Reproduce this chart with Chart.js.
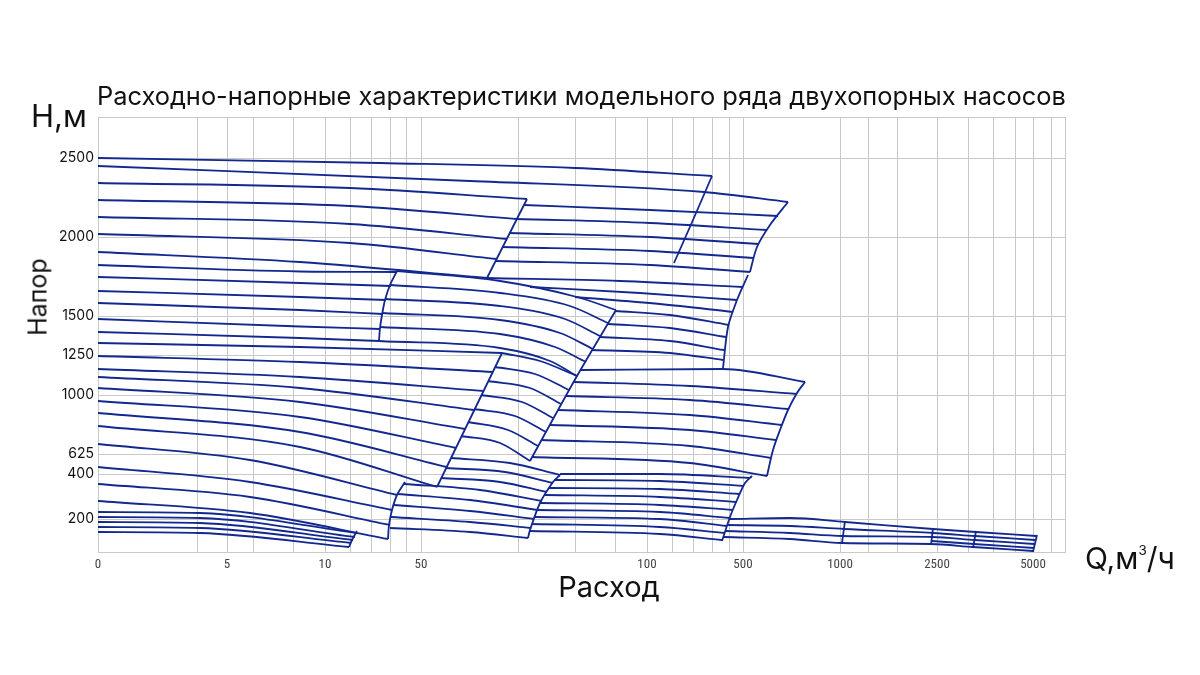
<!DOCTYPE html>
<html lang="ru">
<head>
<meta charset="utf-8">
<title>Расходно-напорные характеристики</title>
<script src="https://cdn.jsdelivr.net/npm/chart.js@4.4.1/dist/chart.umd.min.js"></script>
<style>
  html, body { margin: 0; padding: 0; background: #fff; }
  #wrap { position: relative; width: 1200px; height: 675px; font-family: Inter, Roboto, "Noto Sans", sans-serif; color: #111; }
  #wrap canvas { position: absolute; left: 0; top: 0; }
  .lbl { position: absolute; white-space: nowrap; line-height: 1; }
  #title { left: 97px; top: 83px; font-size: 25.4px; }
  #yUnit { left: 31px; top: 100px; font-size: 31px; }
  #yName { left: 38px; top: 297px; font-size: 25px; transform: translate(-50%, -50%) rotate(-90deg); }
  #xName { left: 609px; top: 572px; font-size: 29px; transform: translateX(-50%); }
  #xUnit { left: 1085px; top: 543px; font-size: 30px; }
  #xUnit sup { font-size: 0.45em; vertical-align: 0; position: relative; top: -1.05em; }
</style>
</head>
<body>
<div id="wrap">
  <canvas id="pumpChart" width="1200" height="675"></canvas>
  <div class="lbl" id="title">Расходно-напорные характеристики модельного ряда двухопорных насосов</div>
  <div class="lbl" id="yUnit">Н,м</div>
  <div class="lbl" id="yName">Напор</div>
  <div class="lbl" id="xName">Расход</div>
  <div class="lbl" id="xUnit">Q,м<sup>3</sup>/ч</div>
</div>
<script>
// axis positions (the axes are not linear: positions along the axis, labels put on top)
const xGrid = [0, 99, 129, 155, 195, 227, 252, 273, 292, 308, 323, 420, 477, 517, 549, 574, 595, 614, 631, 645, 742, 770, 799, 839, 870, 895, 917, 935, 953, 967];
const xLabelPos = [0, 129, 227, 323, 549, 645, 742, 839, 935];
const xLabels = ['0', '5', '10', '50', '100', '500', '1000', '2500', '5000'];

const yGrid = [0, 33, 78, 98, 157, 197, 236, 315, 394, 435];
const yLabelPos = [33, 78, 98, 157, 197, 236, 315, 394];
const yLabels = ['200', '400', '625', '1000', '1250', '1500', '2000', '2500'];

// Q-H curves, [position Q, position H]
const topCurves = [
  [[0,394],[282,389],[477,384],[614,376]],
  [[0,386],[372,371],[606,360],[690,350]]
];
const aCurves = [
  [[0,369],[252,364],[429,353]],
  [[0,352],[252,346],[419,333]],
  [[0,335],[252,328],[409,313]],
  [[0,318],[252,309],[399,293]],
  [[0,300],[202,290],[389,274]]
];
const cCurves = [
  [[426,347],[552,342],[680,336]],
  [[418,333],[552,329],[669,322]],
  [[411,319],[552,315],[660,308]],
  [[404,305],[552,301],[655,294]],
  [[397,291],[552,287],[652,280]]
];
const dCurves = [
  [[389,274],[522,271],[645,265]],
  [[432,265],[542,259],[639,252]],
  [[477,255],[562,248],[635,240]],
  [[517,241],[572,237],[631,227]],
  [[510,228],[572,224],[628,215]],
  [[502,215],[572,211],[626,202]],
  [[494,202],[572,199],[625,192]]
];
const eCurves = [
  [[299,281],[402,271],[479,255],[518,242]],
  [[292,267],[402,259],[472,246],[510,229]],
  [[287,253],[402,246],[467,233],[502,216]],
  [[284,239],[402,232],[462,219],[495,203]],
  [[282,225],[402,218],[457,205],[488,190]],
  [[281,211],[402,204],[452,191],[479,176]]
];
const pCurves = [
  [[0,287],[202,280.5],[298,280]],
  [[0,275],[202,269],[293,266]],
  [[0,261],[202,255],[288,252]],
  [[0,249],[202,242],[285,238]],
  [[0,233],[202,225.5],[282,223]],
  [[0,220],[202,214],[281,211]]
];
const hCurves = [
  [[0,209],[202,205],[404,199]],
  [[0,196],[202,190],[395,180]],
  [[0,183],[202,175],[386,161]],
  [[0,175],[202,164],[376,142]],
  [[0,164],[202,150],[367,123]],
  [[0,151],[202,135],[358,104]],
  [[0,139],[202,120],[349,85]],
  [[0,126],[202,105],[339,65]]
];
const gCurves = [
  [[404,199],[442,191],[479,176]],
  [[397,185],[437,178],[471,162]],
  [[390,171],[432,164],[463,148]],
  [[383,157],[424,150],[455,134]],
  [[376,143],[417,136],[448,120]],
  [[370,130],[410,122],[440,106]],
  [[363,116],[402,109],[432,91]]
];
const fCurves = [
  [[483,182],[625,183],[707,170]],
  [[476,170],[592,166],[699,158]],
  [[468,156],[592,152],[691,143]],
  [[460,142],[592,137],[684,127]],
  [[452,127],[592,122],[678,112]],
  [[444,112],[592,106],[673,94]],
  [[434,95],[592,89],[669,76]]
];
const kCurves = [
  [[0,108],[152,92],[299,57]],
  [[0,85],[152,70],[294,42]],
  [[0,68],[152,55],[292,27]],
  [[0,51],[152,39],[290,13]]
];
const sCurves = [
  [[0,40],[102,39],[259,19]],
  [[0,35],[102,34],[257,15]],
  [[0,30],[102,29],[255,12]],
  [[0,25],[102,24],[253,9]],
  [[0,20],[102,19],[251,5]]
];
const lCurves = [
  [[353,94],[412,89],[462,77]],
  [[348,84],[407,80],[455,69]],
  [[343,74],[402,70],[449,60]],
  [[306,68],[382,62],[444,51]],
  [[299,58],[372,52],[439,42]],
  [[295,47],[372,41],[436,33]],
  [[293,35],[372,30],[433,24]],
  [[292,24],[372,20],[430,14]]
];
const mCurves = [
  [[462,78],[562,78],[652,74]],
  [[456,72],[562,71],[646,66]],
  [[451,64],[562,63],[642,58]],
  [[447,57],[562,55],[638,50]],
  [[442,49],[562,47],[635,42]],
  [[439,42],[562,40],[632,34]],
  [[437,35],[562,33],[629,26]],
  [[434,28],[562,25],[627,19]],
  [[432,21],[562,18],[624,12]]
];
const nCurves = [
  [[632,33],[692,34],[747,30],[835,23],[878,20],[938,16]],
  [[629,27],[692,26],[746,23],[835,19],[877,16],[937,12]],
  [[627,21],[692,19],[745,16],[834,15],[877,12],[936,8]],
  [[626,15],[692,13],[744,9],[833,8],[875,5],[935,1]],
  [[834,11],[876,8],[936,4]]
];

// end-of-range lines of each pump family
const boundaries = [
  [[614,376],[595,332],[576,289]],
  [[429,353],[389,274]],
  [[690,350],[672,327],[659,305],[652,280]],
  [[650,277],[639,252],[630,225],[625,184]],
  [[299,281],[292,267],[287,252],[284,237],[282,224],[281,211]],
  [[518,242],[479,176],[432,91]],
  [[404,199],[339,65]],
  [[707,170],[699,159],[690,142],[682,122],[675,102],[669,76]],
  [[307,70],[299,57],[294,42],[291,27],[290,13]],
  [[259,21],[255,14],[251,5]],
  [[462,77],[455,70],[442,49],[432,22],[430,14]],
  [[654,76],[647,69],[639,52],[632,35],[624,11]],
  [[747,31],[744,9]],
  [[835,24],[833,7]],
  [[878,21],[875,4]],
  [[939,17],[935,0]]
];

const lineColor = '#13288f';
const gridColor = '#c9c9c9';

function makeLine(pts, smooth) {
  return {
    data: pts.map(p => ({ x: p[0], y: p[1] })),
    showLine: true,
    borderColor: lineColor,
    borderWidth: 1.8,
    pointRadius: 0,
    pointHoverRadius: 0,
    cubicInterpolationMode: smooth ? 'monotone' : 'default',
    tension: 0.3,
    fill: false
  };
}

const datasets = [];
[topCurves, aCurves, cCurves, dCurves, eCurves, pCurves, hCurves, gCurves,
 fCurves, kCurves, sCurves, lCurves, mCurves, nCurves].forEach(fam => {
  fam.forEach(c => datasets.push(makeLine(c, true)));
});
boundaries.forEach(b => datasets.push(makeLine(b, false)));

const ctx = document.getElementById('pumpChart').getContext('2d');
const chart = new Chart(ctx, {
  type: 'scatter',
  data: { datasets: datasets },
  options: {
    responsive: false,
    animation: false,
    devicePixelRatio: 1,
    layout: { padding: { left: 0, top: 117, right: 135, bottom: 0 } },
    plugins: {
      legend: { display: false },
      title: { display: false },
      tooltip: { enabled: false }
    },
    scales: {
      x: {
        type: 'linear',
        min: 0,
        max: 967,
        afterBuildTicks: s => { s.ticks = xGrid.map(v => ({ value: v })); },
        afterFit: s => { s.height = 123; },
        grid: { color: gridColor, lineWidth: 1, drawTicks: false },
        border: { color: gridColor },
        ticks: {
          autoSkip: false,
          maxRotation: 0,
          padding: 5,
          color: '#444',
          font: { family: '"Liberation Sans Narrow", "Roboto Condensed", Roboto, sans-serif', size: 13 },
          callback: v => {
            const i = xLabelPos.indexOf(v);
            return i < 0 ? '' : xLabels[i];
          }
        }
      },
      y: {
        type: 'linear',
        min: 0,
        max: 435,
        afterBuildTicks: s => { s.ticks = yGrid.map(v => ({ value: v })); },
        afterFit: s => { s.width = 98; },
        grid: { color: gridColor, lineWidth: 1, drawTicks: false },
        border: { color: gridColor },
        ticks: {
          autoSkip: false,
          padding: 4,
          color: '#111',
          font: { family: 'Inter, Roboto, sans-serif', size: 14 },
          callback: v => {
            const i = yLabelPos.indexOf(v);
            return i < 0 ? '' : yLabels[i];
          }
        }
      }
    }
  }
});
</script>
</body>
</html>
